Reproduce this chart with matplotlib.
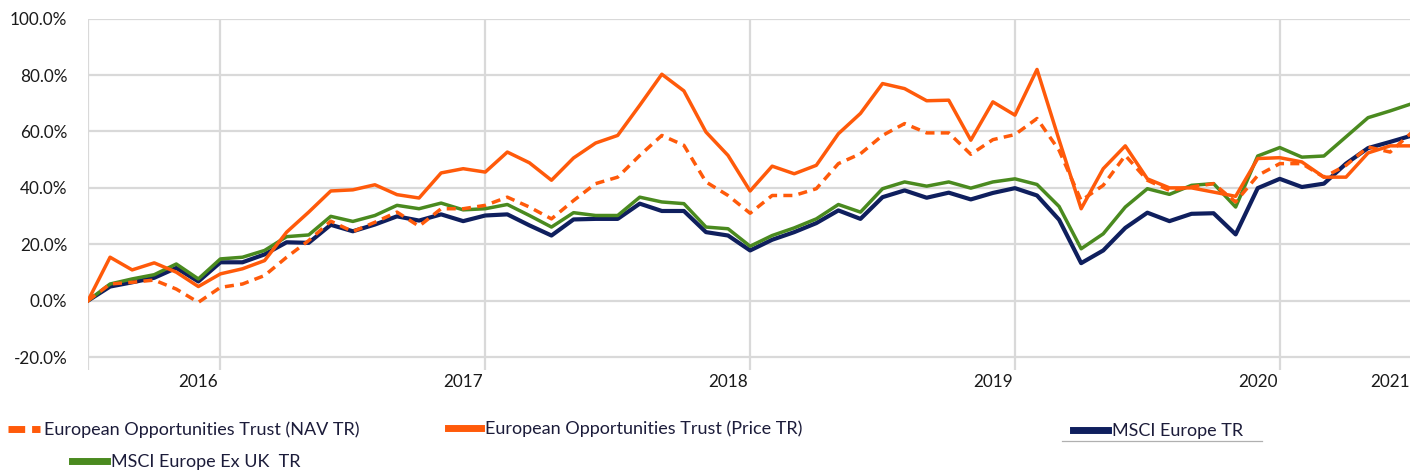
import matplotlib
matplotlib.use("Agg")
import matplotlib.pyplot as plt
from matplotlib.ticker import FuncFormatter
from matplotlib.lines import Line2D

plt.rcParams['font.family'] = ['Lato', 'DejaVu Sans']

# monthly points, Jul 2015 onwards (cumulative total return, %)
nav_tr = [0, 5.9, 6.5, 7.3, 4.1, -0.6, 4.7, 5.9, 8.9, 15.4, 21.3, 28.2, 24.5, 27.8, 31.4, 26.4, 32.6, 32.6,
          33.8, 36.7, 33.2, 29.0, 35.5, 41.5, 43.8, 51.5, 58.6, 55.1, 42.1, 37.3, 31.0, 37.3, 37.3, 39.7, 48.6,
          52.1, 58.6, 62.8, 59.5, 59.5, 51.9, 57.1, 58.9, 64.6, 53.3, 35.5, 40.9, 51.5, 42.7, 39.1, 40.3, 41.5,
          35.0, 44.4, 48.6, 48.6, 43.8, 48.0, 54.5, 52.7, 59.8]
price_tr = [0, 15.4, 10.9, 13.4, 10.1, 5.0, 9.5, 11.3, 14.2, 24.3, 31.4, 38.9, 39.3, 41.1, 37.6, 36.4, 45.3, 46.8,
            45.6, 52.7, 48.9, 42.7, 50.6, 55.9, 58.6, 69.3, 80.3, 74.4, 59.8, 51.5, 38.9, 47.7, 45.0, 48.0, 59.2,
            66.4, 77.0, 75.2, 70.9, 71.1, 56.9, 70.5, 65.8, 82.0, 57.0, 32.6, 46.8, 54.9, 43.2, 40.0, 40.0, 38.5,
            37.0, 50.4, 50.7, 49.2, 43.8, 43.8, 52.4, 54.9, 54.9]
msci_europe = [0, 5.0, 6.5, 8.1, 11.6, 6.8, 13.6, 13.6, 16.4, 20.7, 20.5, 26.9, 24.6, 27.0, 29.9, 28.4, 30.6, 28.2,
               30.2, 30.6, 26.7, 23.1, 28.8, 29.0, 29.0, 34.4, 31.8, 31.8, 24.3, 23.1, 17.8, 21.6, 24.3, 27.5, 32.0,
               29.0, 36.7, 39.1, 36.5, 38.3, 35.9, 38.2, 39.9, 37.3, 28.7, 13.3, 17.8, 25.8, 31.2, 28.2, 30.8, 31.0,
               23.5, 39.9, 43.2, 40.3, 41.5, 48.6, 54.1, 56.3, 58.6]
msci_ex_uk = [0, 5.9, 7.7, 9.2, 13.0, 7.7, 14.8, 15.4, 17.8, 22.7, 23.3, 29.9, 28.1, 30.2, 33.8, 32.6, 34.6, 32.2,
              32.6, 34.1, 30.2, 26.1, 31.2, 30.2, 30.2, 36.7, 35.0, 34.4, 26.1, 25.5, 19.3, 23.1, 25.8, 29.0, 34.1,
              31.4, 39.7, 42.1, 40.6, 42.1, 39.9, 42.1, 43.2, 41.2, 33.4, 18.4, 23.7, 33.2, 39.7, 37.7, 40.9, 41.5,
              33.2, 51.3, 54.3, 50.9, 51.3, 58.1, 64.9, 67.3, 69.9]

year_grid = [0, 6, 18, 30, 42, 54]
year_label_pos = [5, 17, 29, 41, 53, 59]
year_labels = ['2016', '2017', '2018', '2019', '2020', '2021']

orange = '#ff5a0a'
navy = '#0f1f5e'
green = '#4a8a1f'
txt = '#1a1a1a'
legtxt = '#1c1c3a'

fig = plt.figure(figsize=(14.1, 4.71), dpi=100)
ax = fig.add_axes([88 / 1410, 1 - 370 / 471, 1 - 88 / 1410, (370 - 18.7) / 471])

x = list(range(len(nav_tr)))
l_navy, = ax.plot(x, msci_europe, color=navy, lw=3.0, zorder=3)
l_green, = ax.plot(x, msci_ex_uk, color=green, lw=2.5, zorder=4)
l_nav, = ax.plot(x, nav_tr, color=orange, lw=2.5, dashes=(2.6, 1.8), zorder=5)
l_price, = ax.plot(x, price_tr, color=orange, lw=2.5, zorder=6)

ax.set_xlim(0, 59.9)
ax.set_ylim(-24.6, 100)
ax.set_yticks(range(-20, 101, 20))
ax.yaxis.set_major_formatter(FuncFormatter(lambda v, p: f'{v:.1f}%'))
ax.set_xticks(year_grid)
ax.set_xticklabels([])
ax.set_xticks(year_label_pos, minor=True)
ax.set_xticklabels(year_labels, minor=True)
ax.tick_params(axis='both', which='both', length=0, colors=txt, labelsize=12.3)
ax.tick_params(axis='y', pad=15)
ax.tick_params(axis='x', which='minor', pad=3)
ax.grid(True, color='#d9d9d9', lw=1.6)
ax.set_axisbelow(True)
for s in ax.spines.values():
    s.set_visible(False)

# legend entries placed like the original (Excel layout)
def leg(handle, label, x0, y0, hl, dashed=False):
    lg = fig.legend([handle], [label], loc='center left', bbox_to_anchor=(x0 / 1410, 1 - y0 / 471),
                    frameon=False, handlelength=hl, handletextpad=0.22, borderaxespad=0, borderpad=0,
                    fontsize=13, labelcolor=legtxt)
    for ln in lg.get_lines():
        ln.set_linewidth(5)
        if dashed:
            ln.set_dashes((2.4, 1.0))
    return lg

leg(l_nav, 'European Opportunities Trust (NAV TR)', 8, 430, 1.77, dashed=True)
leg(l_price, 'European Opportunities Trust (Price TR)', 448, 429, 1.83)
leg(l_navy, 'MSCI Europe TR', 1073, 431, 1.94)
leg(l_green, 'MSCI Europe Ex UK  TR', 72, 462, 1.94)

# thin grey rule under the MSCI Europe entry, as in the source
fig.add_artist(Line2D([1062 / 1410, 1262 / 1410], [1 - 441 / 471, 1 - 441 / 471], color='#b0b0b0', lw=0.9))

fig.savefig('out.png', dpi=100)
